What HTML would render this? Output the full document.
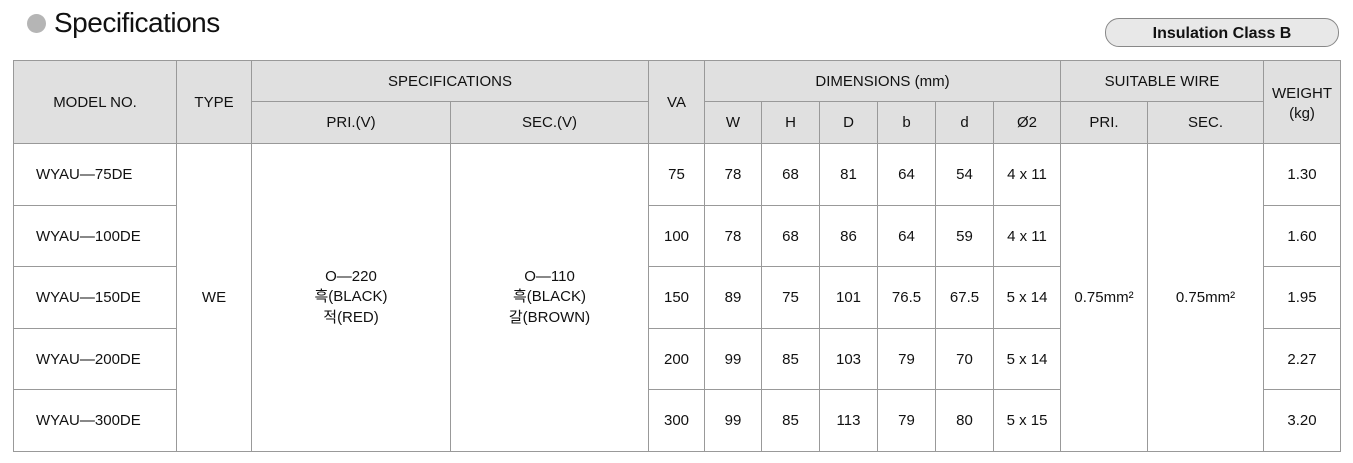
<!DOCTYPE html>
<html><head><meta charset="utf-8"><style>
body{margin:0;width:1353px;height:463px;background:#fff;font-family:"Liberation Sans","Noto Sans CJK KR",sans-serif;color:#111;position:relative;overflow:hidden}
.dot{position:absolute;left:27px;top:14px;width:19px;height:19px;border-radius:50%;background:#b5b5b5}
.title{position:absolute;left:54px;top:7px;font-size:28px;letter-spacing:-0.5px}
.badge{position:absolute;left:1105px;top:18px;width:232px;height:27px;border:1px solid #888;border-radius:14px;background:#e8e8e8;font-weight:bold;font-size:16px;text-align:center;line-height:29px}
table{position:absolute;left:13px;top:60px;border-collapse:collapse;table-layout:fixed;font-size:15px}
td{border:1px solid #999;text-align:center;vertical-align:middle;padding:0}
tr.h td{background:#e0e0e0}
td.l{text-align:left;padding-left:22px}
td.w{line-height:20px;padding-top:3px}
</style></head><body>
<div class="dot"></div><div class="title">Specifications</div>
<div class="badge">Insulation Class B</div>
<table>
<colgroup><col style="width:163px"><col style="width:75px"><col style="width:199px"><col style="width:198px"><col style="width:56px"><col style="width:57px"><col style="width:58px"><col style="width:58px"><col style="width:58px"><col style="width:58px"><col style="width:67px"><col style="width:87px"><col style="width:116px"><col style="width:77px"></colgroup>
<tr class="h" style="height:41px"><td rowspan="2">MODEL NO.</td><td rowspan="2">TYPE</td><td colspan="2">SPECIFICATIONS</td><td rowspan="2">VA</td><td colspan="6">DIMENSIONS (mm)</td><td colspan="2">SUITABLE WIRE</td><td rowspan="2" class="w">WEIGHT<br>(kg)</td></tr>
<tr class="h" style="height:42px"><td>PRI.(V)</td><td>SEC.(V)</td><td>W</td><td>H</td><td>D</td><td>b</td><td>d</td><td>Ø2</td><td>PRI.</td><td>SEC.</td></tr>
<tr style="height:62px"><td class="l">WYAU—75DE</td><td rowspan="5">WE</td><td rowspan="5">O—220<br>흑(BLACK)<br>적(RED)</td><td rowspan="5">O—110<br>흑(BLACK)<br>갈(BROWN)</td><td>75</td><td>78</td><td>68</td><td>81</td><td>64</td><td>54</td><td>4 x 11</td><td rowspan="5">0.75mm²</td><td rowspan="5">0.75mm²</td><td>1.30</td></tr>
<tr style="height:61px"><td class="l">WYAU—100DE</td><td>100</td><td>78</td><td>68</td><td>86</td><td>64</td><td>59</td><td>4 x 11</td><td>1.60</td></tr>
<tr style="height:62px"><td class="l">WYAU—150DE</td><td>150</td><td>89</td><td>75</td><td>101</td><td>76.5</td><td>67.5</td><td>5 x 14</td><td>1.95</td></tr>
<tr style="height:61px"><td class="l">WYAU—200DE</td><td>200</td><td>99</td><td>85</td><td>103</td><td>79</td><td>70</td><td>5 x 14</td><td>2.27</td></tr>
<tr style="height:62px"><td class="l">WYAU—300DE</td><td>300</td><td>99</td><td>85</td><td>113</td><td>79</td><td>80</td><td>5 x 15</td><td>3.20</td></tr>
</table>
</body></html>
